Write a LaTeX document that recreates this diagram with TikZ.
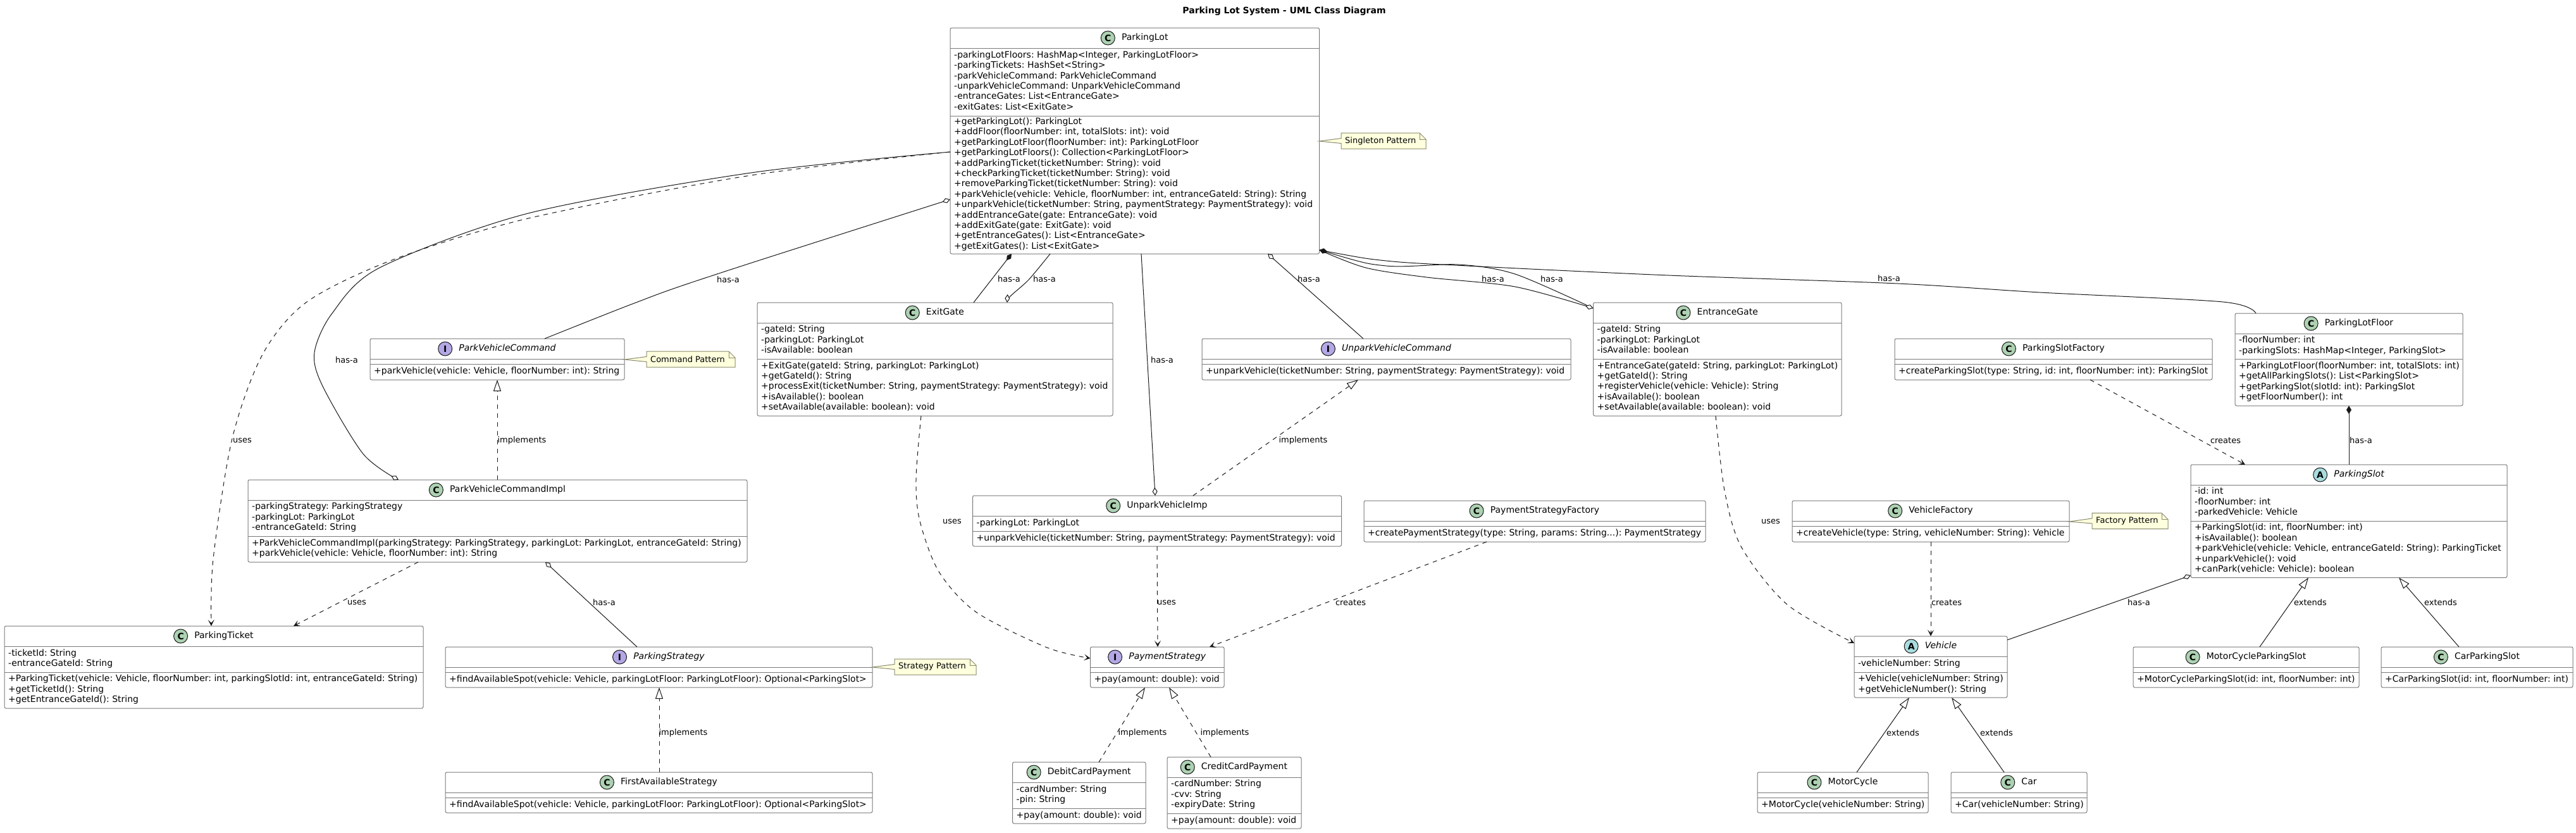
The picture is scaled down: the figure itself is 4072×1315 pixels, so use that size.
\documentclass[tikz,border=0pt]{standalone}
\usepackage{fontspec}
\setmainfont{DejaVu Sans}
\usetikzlibrary{positioning}
\usetikzlibrary{calc}
\usetikzlibrary{arrows.meta}
\frenchspacing

\definecolor{framegray}{HTML}{7A7A7A}
\definecolor{notegray}{HTML}{8A8A6E}
\definecolor{notefill}{HTML}{FEFFDD}
\definecolor{linkgray}{HTML}{181818}
\definecolor{spotclass}{HTML}{ADD1B2}
\definecolor{spotiface}{HTML}{B4A7E5}
\definecolor{spotabstract}{HTML}{A9DCDF}

\tikzset{
  classframe/.style={draw=framegray, line width=1pt, rounded corners=2.5pt, fill=white, inner sep=0pt, outer sep=0pt, anchor=north west},
  classrule/.style={draw=framegray, line width=1pt},
  classtitle/.style={font=\fontsize{14}{16.4}\selectfont, inner sep=0pt, text height=10.5pt, text depth=3pt},
  spotC/.style={circle, draw=linkgray, line width=1pt, fill=spotclass, minimum size=22pt, inner sep=0pt, font=\fontsize{14}{16}\selectfont\bfseries},
  spotI/.style={spotC, fill=spotiface},
  spotA/.style={spotC, fill=spotabstract},
  members/.style={font=\fontsize{14}{16.4}\selectfont, align=left, anchor=west, inner sep=0pt,
    execute at begin node=\strut, execute at end node=\strut},
  notebox/.style={inner sep=0pt, outer sep=0pt, anchor=west, minimum height=25pt},
  noteline/.style={draw=notegray, fill=notefill, line width=1pt},
  notetext/.style={font=\fontsize{13}{15}\selectfont, inner sep=0pt, anchor=west},
  linklabel/.style={font=\fontsize{13}{15}\selectfont, inner sep=0pt},
  linkline/.style={draw=linkgray, line width=1pt},
  hasastart/.style={linkline, {Diamond[open,fill=white,length=13pt,width=8pt]}-},
  hasaend/.style={linkline, -{Diamond[open,fill=white,length=13pt,width=8pt]}},
  compstart/.style={linkline, {Diamond[length=13pt,width=8pt]}-},
  usesline/.style={linkline, dash pattern=on 7pt off 7pt, -{Stealth[length=10pt,width=10pt,inset=5pt]}},
  implline/.style={linkline, dash pattern=on 7pt off 7pt, -{Triangle[open,fill=white,length=18pt,width=12pt]}},
  extendline/.style={linkline, -{Triangle[open,fill=white,length=18pt,width=12pt]}},
}

% #1 name, #2 spot style, #3 spot letter, #4 title, #5 x, #6 y, #7 width, #8 height
\newcommand{\classbox}[8]{%
  \node[classframe, minimum width=#7pt, minimum height=#8pt] (#1) at (#5,#6) {};
  \draw[classrule] ([yshift=-32pt]#1.north west) -- ([yshift=-32pt]#1.north east);
  \node[classtitle] (#1-title) at ([xshift=16pt,yshift=-16pt]#1.north) {#4};
  \node[#2, left=10pt of #1-title] (#1-spot) {#3};
}
% #1 name, #2 height of the attribute part, #3 attributes, #4 methods
\newcommand{\classmembers}[4]{%
  \coordinate (#1-rule) at ([yshift=-32pt-#2pt]#1.north west);
  \draw[classrule] (#1-rule) -- ([yshift=-32pt-#2pt]#1.north east);
  \if\relax\detokenize{#3}\relax\else
    \node[members] (#1-attrs) at ([xshift=6pt,yshift=-32pt-#2pt/2]#1.north west) {#3};
  \fi
  \node[members] (#1-methods) at ($(#1-rule)!0.5!(#1.south west)+(6,0)$) {#4};
}
% #1 name, #2 x, #3 y, #4 width, #5 text, #6 tip on the class
\newcommand{\patternnote}[6]{%
  \node[notebox, minimum width=#4pt] (#1) at (#2,#3) {};
  \filldraw[noteline] ([yshift=4pt]#1.west) -- #6 -- ([yshift=-4pt]#1.west) -- (#1.south west) -- (#1.south east)
    -- ([yshift=-10pt]#1.north east) -- ([xshift=-10pt]#1.north east) -- (#1.north west) -- cycle;
  \draw[noteline, fill=none] ([xshift=-10pt]#1.north east) -- ([xshift=-10pt,yshift=-10pt]#1.north east) -- ([yshift=-10pt]#1.north east);
  \node[notetext] (#1-text) at ([xshift=6pt]#1.west) {#5};
}

\begin{document}
\begin{tikzpicture}[x=1pt,y=-1pt]
\useasboundingbox (0,0) rectangle (4072,1315);

\node[font=\fontsize{14}{16}\selectfont\bfseries, inner sep=0pt] (DiagramTitle) at (2030,18) {Parking Lot System - UML Class Diagram};

% classes of the left half
\classbox{ParkingLot}{spotC}{C}{ParkingLot}{1502}{44}{583.5}{357}
\classmembers{ParkingLot}{107}{-parkingLotFloors: HashMap<Integer, ParkingLotFloor>\\-parkingTickets: HashSet<String>\\-parkVehicleCommand: ParkVehicleCommand\\-unparkVehicleCommand: UnparkVehicleCommand\\-entranceGates: List<EntranceGate>\\-exitGates: List<ExitGate>}{+getParkingLot(): ParkingLot\\+addFloor(floorNumber: int, totalSlots: int): void\\+getParkingLotFloor(floorNumber: int): ParkingLotFloor\\+getParkingLotFloors(): Collection<ParkingLotFloor>\\+addParkingTicket(ticketNumber: String): void\\+checkParkingTicket(ticketNumber: String): void\\+removeParkingTicket(ticketNumber: String): void\\+parkVehicle(vehicle: Vehicle, floorNumber: int, entranceGateId: String): String\\+unparkVehicle(ticketNumber: String, paymentStrategy: PaymentStrategy): void\\+addEntranceGate(gate: EntranceGate): void\\+addExitGate(gate: ExitGate): void\\+getEntranceGates(): List<EntranceGate>\\+getExitGates(): List<ExitGate>}

\classbox{ParkVehicleCommand}{spotI}{I}{\itshape ParkVehicleCommand}{585}{535}{402}{65}
\classmembers{ParkVehicleCommand}{8}{}{+parkVehicle(vehicle: Vehicle, floorNumber: int): String}

\classbox{ParkVehicleCommandImpl}{spotC}{C}{ParkVehicleCommandImpl}{392}{758}{789}{130}
\classmembers{ParkVehicleCommandImpl}{57}{-parkingStrategy: ParkingStrategy\\-parkingLot: ParkingLot\\-entranceGateId: String}{+ParkVehicleCommandImpl(parkingStrategy: ParkingStrategy, parkingLot: ParkingLot, entranceGateId: String)\\+parkVehicle(vehicle: Vehicle, floorNumber: int): String}

\classbox{ParkingTicket}{spotC}{C}{ParkingTicket}{7}{989}{662}{130}
\classmembers{ParkingTicket}{41}{-ticketId: String\\-entranceGateId: String}{+ParkingTicket(vehicle: Vehicle, floorNumber: int, parkingSlotId: int, entranceGateId: String)\\+getTicketId(): String\\+getEntranceGateId(): String}

\classbox{ParkingStrategy}{spotI}{I}{\itshape ParkingStrategy}{704}{1022}{675}{64}
\classmembers{ParkingStrategy}{8}{}{+findAvailableSpot(vehicle: Vehicle, parkingLotFloor: ParkingLotFloor): Optional<ParkingSlot>}

\classbox{FirstAvailableStrategy}{spotC}{C}{FirstAvailableStrategy}{704}{1220}{675}{64}
\classmembers{FirstAvailableStrategy}{8}{}{+findAvailableSpot(vehicle: Vehicle, parkingLotFloor: ParkingLotFloor): Optional<ParkingSlot>}

\classbox{ExitGate}{spotC}{C}{ExitGate}{1197}{478}{562}{179}
\classmembers{ExitGate}{57}{-gateId: String\\-parkingLot: ParkingLot\\-isAvailable: boolean}{+ExitGate(gateId: String, parkingLot: ParkingLot)\\+getGateId(): String\\+processExit(ticketNumber: String, paymentStrategy: PaymentStrategy): void\\+isAvailable(): boolean\\+setAvailable(available: boolean): void}

\classbox{UnparkVehicleCommand}{spotI}{I}{\itshape UnparkVehicleCommand}{1900}{535}{583}{65}
\classmembers{UnparkVehicleCommand}{8}{}{+unparkVehicle(ticketNumber: String, paymentStrategy: PaymentStrategy): void}

\classbox{UnparkVehicleImp}{spotC}{C}{UnparkVehicleImp}{1537.5}{783}{583}{80}
\classmembers{UnparkVehicleImp}{24}{-parkingLot: ParkingLot}{+unparkVehicle(ticketNumber: String, paymentStrategy: PaymentStrategy): void}

\classbox{PaymentStrategy}{spotI}{I}{\itshape PaymentStrategy}{1723.5}{1022}{211.5}{64}
\classmembers{PaymentStrategy}{8}{}{+pay(amount: double): void}

\classbox{DebitCardPayment}{spotC}{C}{DebitCardPayment}{1600.5}{1204}{210.5}{97}
\classmembers{DebitCardPayment}{41}{-cardNumber: String\\-pin: String}{+pay(amount: double): void}

\classbox{CreditCardPayment}{spotC}{C}{CreditCardPayment}{1845}{1196}{212}{113}
\classmembers{CreditCardPayment}{57}{-cardNumber: String\\-cvv: String\\-expiryDate: String}{+pay(amount: double): void}

% classes of the right half
\classbox{PaymentStrategyFactory}{spotC}{C}{PaymentStrategyFactory}{2156}{791}{540}{65}
\classmembers{PaymentStrategyFactory}{8}{}{+createPaymentStrategy(type: String, params: String...): PaymentStrategy}

\classbox{EntranceGate}{spotC}{C}{EntranceGate}{2518.5}{478}{392.5}{179}
\classmembers{EntranceGate}{57}{-gateId: String\\-parkingLot: ParkingLot\\-isAvailable: boolean}{+EntranceGate(gateId: String, parkingLot: ParkingLot)\\+getGateId(): String\\+registerVehicle(vehicle: Vehicle): String\\+isAvailable(): boolean\\+setAvailable(available: boolean): void}

\classbox{ParkingLotFloor}{spotC}{C}{ParkingLotFloor}{3533}{495}{360}{146}
\classmembers{ParkingLotFloor}{40}{-floorNumber: int\\-parkingSlots: HashMap<Integer, ParkingSlot>}{+ParkingLotFloor(floorNumber: int, totalSlots: int)\\+getAllParkingSlots(): List<ParkingSlot>\\+getParkingSlot(slotId: int): ParkingSlot\\+getFloorNumber(): int}

\classbox{ParkingSlotFactory}{spotC}{C}{ParkingSlotFactory}{2995}{535}{502}{65}
\classmembers{ParkingSlotFactory}{8}{}{+createParkingSlot(type: String, id: int, floorNumber: int): ParkingSlot}

\classbox{VehicleFactory}{spotC}{C}{VehicleFactory}{2833}{791}{438}{65}
\classmembers{VehicleFactory}{8}{}{+createVehicle(type: String, vehicleNumber: String): Vehicle}

\classbox{ParkingSlot}{spotA}{A}{\itshape ParkingSlot}{3463}{734}{500}{178.5}
\classmembers{ParkingSlot}{57}{-id: int\\-floorNumber: int\\-parkedVehicle: Vehicle}{+ParkingSlot(id: int, floorNumber: int)\\+isAvailable(): boolean\\+parkVehicle(vehicle: Vehicle, entranceGateId: String): ParkingTicket\\+unparkVehicle(): void\\+canPark(vehicle: Vehicle): boolean}

\classbox{Vehicle}{spotA}{A}{\itshape Vehicle}{2931}{1005}{242}{97}
\classmembers{Vehicle}{25}{-vehicleNumber: String}{+Vehicle(vehicleNumber: String)\\+getVehicleNumber(): String}

\classbox{MotorCycleParkingSlot}{spotC}{C}{MotorCycleParkingSlot}{3372}{1022}{357}{64}
\classmembers{MotorCycleParkingSlot}{8}{}{+MotorCycleParkingSlot(id: int, floorNumber: int)}

\classbox{CarParkingSlot}{spotC}{C}{CarParkingSlot}{3764}{1022}{303}{64}
\classmembers{CarParkingSlot}{8}{}{+CarParkingSlot(id: int, floorNumber: int)}

\classbox{MotorCycle}{spotC}{C}{MotorCycle}{2778}{1220}{270}{64}
\classmembers{MotorCycle}{8}{}{+MotorCycle(vehicleNumber: String)}

\classbox{Car}{spotC}{C}{Car}{3084}{1220}{215}{64}
\classmembers{Car}{8}{}{+Car(vehicleNumber: String)}

% notes
\patternnote{SingletonNote}{2120}{222.5}{134}{Singleton Pattern}{([yshift=-179pt]ParkingLot.north east)}
\patternnote{CommandNote}{1022}{567.5}{140}{Command Pattern}{([yshift=-33pt]ParkVehicleCommand.north east)}
\patternnote{StrategyNote}{1414}{1053.5}{129}{Strategy Pattern}{([yshift=-32pt]ParkingStrategy.north east)}
\patternnote{FactoryNote}{3307}{823}{120}{Factory Pattern}{([yshift=-33pt]VehicleFactory.north east)}

% links around ParkingLot
\draw[usesline] plot[smooth] coordinates {([yshift=-196pt]ParkingLot.north west) (1187,277) (835,345) (622,410) (485,477) (415,560) (367,693) (337,883) ([xshift=327pt]ParkingTicket.north west)};
\draw[hasaend] plot[smooth] coordinates {([yshift=-196pt]ParkingLot.north west) (1187,273) (835,337) (600,423) (525,495) (497,557) (510,610) (574,717) ([xshift=238pt]ParkVehicleCommandImpl.north west)};
\draw[hasastart] plot[smooth] coordinates {([yshift=-271pt]ParkingLot.north west) (1115,439) (1000,480) ([xshift=276pt]ParkVehicleCommand.north west)};
\draw[compstart] ([xshift=97pt]ParkingLot.south west) -- ([xshift=342pt]ExitGate.north west);
\draw[hasaend] plot[smooth] coordinates {([xshift=158pt]ParkingLot.south west) (1626,442) (1597,468) ([xshift=395pt]ExitGate.north west)};
\draw[hasaend] ([xshift=302pt]ParkingLot.south west) -- ([xshift=288.5pt]UnparkVehicleImp.north west);
\draw[hasastart] ([xshift=502pt]ParkingLot.south west) -- ([xshift=255pt]UnparkVehicleCommand.north west);
\draw[compstart] plot[smooth] coordinates {([yshift=6pt]ParkingLot.south east) (2191,420) (2306,418) (2395,433) ([yshift=-9pt]EntranceGate.north west)};
\draw[hasaend] plot[smooth] coordinates {([yshift=6pt]ParkingLot.south east) (2159,423) (2255,438) (2395,453) ([yshift=-9pt]EntranceGate.north west)};
\draw[compstart] plot[smooth] coordinates {([yshift=6pt]ParkingLot.south east) (2191,412) (2319,420) (2638,435) (3000,448) (3225,462) (3514,477) ([xshift=33pt]ParkingLotFloor.north west)};

% links of the commands and strategies
\draw[implline] ([xshift=394pt]ParkVehicleCommandImpl.north west) -- ([xshift=201pt]ParkVehicleCommand.south west);
\draw[usesline] ([xshift=269pt]ParkVehicleCommandImpl.south west) -- ([xshift=457pt]ParkingTicket.north west);
\draw[hasastart] ([xshift=470pt]ParkVehicleCommandImpl.south west) -- ([xshift=303pt]ParkingStrategy.north west);
\draw[implline] ([xshift=338pt]FirstAvailableStrategy.north west) -- ([xshift=338pt]ParkingStrategy.south west);
\draw[usesline] plot[smooth] coordinates {([xshift=259pt]ExitGate.south west) (1448,757) (1454,823) (1484,903) (1543,967) (1655,1023) ([yshift=-18pt]PaymentStrategy.north west)};
\draw[implline] ([xshift=348.5pt]UnparkVehicleImp.north west) -- ([xshift=247pt]UnparkVehicleCommand.south west);
\draw[usesline] ([xshift=291.5pt]UnparkVehicleImp.south west) -- ([xshift=106.5pt]PaymentStrategy.north west);
\draw[usesline] ([xshift=194pt]PaymentStrategyFactory.south west) -- ([xshift=188.5pt]PaymentStrategy.north west);
\draw[implline] ([xshift=136.5pt]DebitCardPayment.north west) -- ([xshift=86.5pt]PaymentStrategy.south west);
\draw[implline] ([xshift=69pt]CreditCardPayment.north west) -- ([xshift=124.5pt]PaymentStrategy.south west);

% links of the vehicles and slots
\draw[usesline] plot[smooth] coordinates {([xshift=193.5pt]EntranceGate.south west) (2726,775) (2752.5,864) (2825,955) ([yshift=-11pt]Vehicle.north west)};
\draw[usesline] ([xshift=219pt]VehicleFactory.south west) -- ([xshift=121pt]Vehicle.north west);
\draw[usesline] ([xshift=309pt]ParkingSlotFactory.south west) -- ([xshift=86pt]ParkingSlot.north west);
\draw[compstart] ([xshift=180pt]ParkingLotFloor.south west) -- ([xshift=250pt]ParkingSlot.north west);
\draw[hasastart] ([yshift=3.5pt]ParkingSlot.south west) -- ([yshift=-6pt]Vehicle.north east);
\draw[extendline] ([xshift=200pt]MotorCycleParkingSlot.north west) -- ([xshift=186pt]ParkingSlot.south west);
\draw[extendline] ([xshift=123pt]CarParkingSlot.north west) -- ([xshift=329pt]ParkingSlot.south west);
\draw[extendline] ([xshift=157pt]MotorCycle.north west) -- ([xshift=87pt]Vehicle.south west);
\draw[extendline] ([xshift=84pt]Car.north west) -- ([xshift=154pt]Vehicle.south west);

% texts on the links
\foreach \x/\y [count=\i] in {548/569, 1151/442, 1595/441, 1651/441, 1837/569, 2069/441, 2360/441, 2453/441, 2986/440, 955/952, 3732/696, 3381/952}
  \node[linklabel] (hasa\i) at (\x,\y) {has-a};
\foreach \x/\y [count=\i] in {383/696, 564/952, 1505/824, 1844/952, 2799/824}
  \node[linklabel] (uses\i) at (\x,\y) {uses};
\foreach \x/\y [count=\i] in {825/696, 2060/696, 1080/1158, 1806/1158, 1936/1158}
  \node[linklabel] (implements\i) at (\x,\y) {implements};
\foreach \x/\y [count=\i] in {2135/952, 3077/952, 3518/696}
  \node[linklabel] (creates\i) at (\x,\y) {creates};
\foreach \x/\y [count=\i] in {3652/952, 3858/952, 3008/1158, 3156/1158}
  \node[linklabel] (extends\i) at (\x,\y) {extends};

\end{tikzpicture}
\end{document}
